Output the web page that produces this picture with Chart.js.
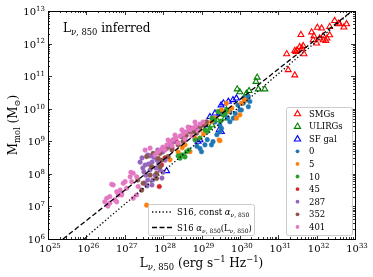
<!DOCTYPE html>
<html>
<head>
<meta charset="utf-8">
<script src="https://cdn.jsdelivr.net/npm/chart.js@4.4.0/dist/chart.umd.min.js"></script>
<style>
  html, body { margin: 0; padding: 0; background: #fff; }
</style>
</head>
<body>
<canvas id="chart" width="373" height="277"></canvas>
<script>
// values, kept as log10 exponents: [log L850, log Mmol]
const SMGS = [
  [31.59, 12.27], [31.22, 11.68], [31.43, 11.78], [31.49, 11.80], [31.46, 11.75],
  [31.56, 11.90], [31.65, 11.93], [31.67, 11.68], [31.87, 12.35], [31.93, 12.23],
  [32.02, 12.49], [32.13, 12.47], [32.00, 12.01], [32.08, 12.16], [32.17, 12.23],
  [32.17, 12.11], [32.24, 12.09], [32.27, 12.16], [32.34, 12.26], [32.34, 12.52],
  [32.47, 12.70], [32.57, 12.62], [32.71, 12.50], [32.78, 12.60], [32.60, 12.60],
  [31.26, 11.19], [31.43, 11.03], [31.91, 12.11], [31.62, 11.85],
]
const ULIRGS = [
  [30.45, 10.96], [30.42, 10.83], [30.48, 10.60], [30.65, 10.60], [29.93, 10.60],
  [30.00, 10.51], [30.24, 10.55], [30.17, 10.47], [29.65, 9.96], [29.61, 9.71],
  [29.53, 9.84], [29.40, 9.65], [29.27, 9.50],
]
const SF_GAL = [
  [28.09, 8.09], [28.91, 8.99], [28.96, 9.04], [29.22, 9.75], [29.35, 9.86],
  [29.48, 9.86], [29.46, 9.35], [29.52, 9.29], [29.57, 10.17], [29.70, 10.22],
  [29.51, 10.11], [29.82, 10.27], [29.91, 10.32], [28.70, 9.35], [29.09, 9.50],
]

// simulated galaxies, one list per snapshot
const SIM_SNAPS = ['0', '5', '10', '45', '287', '352', '401']
const SNAP_0 = [
  [30.17, 10.27], [30.22, 10.37], [30.09, 10.17], [30.00, 9.96], [30.26, 10.22],
  [30.22, 10.06], [30.04, 9.96], [29.83, 9.71], [29.74, 9.60], [29.52, 9.40],
  [29.48, 9.29], [29.30, 8.99], [29.26, 8.89], [29.00, 8.68], [29.09, 8.89],
  [28.96, 8.78], [29.48, 9.50], [29.61, 9.81], [29.74, 9.90], [29.95, 10.11],
  [29.35, 9.59], [30.10, 10.33], [29.40, 9.20], [29.15, 9.05], [29.88, 9.85],
  [29.68, 9.72], [28.88, 8.85],
]
const SNAP_5 = [
  [29.91, 9.71], [30.00, 9.81], [30.04, 10.17], [29.65, 10.17], [29.52, 9.96],
  [29.26, 9.60], [29.13, 9.55], [29.46, 9.04], [27.57, 7.04], [29.48, 9.02],
  [28.70, 8.68], [28.96, 9.35], [28.83, 9.10], [28.57, 8.89], [30.13, 10.27],
  [29.79, 10.02], [29.35, 9.71], [28.39, 8.67], [28.18, 8.43], [29.70, 9.92],
  [29.05, 9.22], [28.50, 8.80],
]
const SNAP_10 = [
  [28.52, 8.58], [28.44, 8.48], [28.61, 8.68], [28.48, 8.58], [28.57, 8.52],
  [28.39, 8.55], [29.43, 9.91], [29.61, 9.86], [29.57, 9.81], [29.65, 9.96],
  [29.09, 9.35], [29.22, 9.41], [28.83, 9.04], [28.96, 9.10], [29.35, 9.65],
  [28.67, 8.73], [29.27, 9.71], [29.50, 9.62], [29.15, 9.30],
]
const SNAP_45 = [
  [27.96, 8.27], [27.90, 7.61], [28.35, 8.99], [28.23, 8.79], [28.70, 9.41],
  [28.05, 8.49],
]
const SNAP_287 = [
  [27.45, 8.49], [27.53, 8.27], [27.60, 8.58], [27.66, 8.12], [27.71, 8.36],
  [27.79, 7.96], [27.55, 7.96], [27.47, 8.18], [27.84, 8.42], [27.92, 8.12],
  [27.73, 7.81], [27.60, 7.81], [27.99, 8.67], [28.05, 8.42], [27.66, 8.55],
  [28.26, 8.98], [28.18, 8.86], [27.86, 8.73], [27.50, 8.06], [27.81, 8.18],
  [27.97, 7.87], [27.58, 7.63], [27.40, 8.36], [27.71, 7.66], [28.57, 9.04],
  [28.83, 9.35], [27.62, 8.30], [27.76, 8.50], [27.88, 8.30], [27.52, 7.72],
  [28.00, 8.05],
]
const SNAP_352 = [
  [27.57, 8.53], [27.74, 8.63], [27.87, 8.48], [27.70, 8.22], [27.83, 8.02],
  [27.48, 7.71], [27.44, 7.50], [27.66, 7.96], [27.83, 7.86], [27.96, 8.42],
  [27.92, 8.22], [28.13, 8.53], [28.09, 8.78], [28.26, 9.04], [28.48, 9.14],
  [28.70, 9.29], [27.92, 8.63], [28.91, 9.40], [28.52, 8.99], [28.87, 9.25],
  [28.96, 9.45], [29.13, 9.60], [28.39, 8.89], [28.23, 8.73], [27.34, 7.81],
  [28.60, 9.18], [28.78, 9.30], [29.04, 9.50],
]
const SNAP_401 = [
  [26.48, 7.14], [26.53, 7.25], [26.61, 7.30], [26.74, 7.20], [26.79, 7.45],
  [26.88, 7.50], [26.83, 7.35], [26.70, 7.66], [27.05, 7.56], [27.22, 8.02],
  [27.31, 7.35], [27.22, 7.25], [26.96, 7.71], [27.14, 7.91], [26.61, 7.10],
  [26.79, 7.14], [26.92, 7.40], [26.66, 7.68], [27.01, 7.76], [27.16, 8.05],
  [26.92, 7.35], [27.35, 7.61], [27.18, 7.76], [27.31, 7.91], [26.56, 7.01],
  [27.92, 8.73], [27.99, 8.82], [28.10, 8.89], [28.18, 8.98], [28.26, 9.04],
  [28.33, 9.10], [28.44, 9.16], [28.52, 9.22], [28.59, 9.29], [28.70, 9.35],
  [28.78, 9.41], [28.85, 9.47], [28.96, 9.53], [29.04, 9.59], [28.05, 8.73],
  [28.23, 8.86], [28.39, 8.95], [28.57, 9.07], [28.75, 9.16], [28.91, 9.32],
  [28.31, 9.19], [28.49, 9.35], [28.65, 9.44], [28.83, 9.59], [28.13, 9.04],
  [27.86, 8.67], [27.79, 8.58], [27.66, 8.79], [27.53, 8.73],
]

// S16 relations, end points where they meet the frame
const S16_CONST = [[25.93, 6], [32.93, 13]]
const S16_VAR = [[25.39, 6], [32.92, 13]]

const X_EXP = [25, 26, 27, 28, 29, 30, 31, 32, 33]
const Y_EXP = [6, 7, 8, 9, 10, 11, 12, 13]

const SNAP_COLORS = ['#1f77b4', '#ff7f0e', '#2ca02c', '#d62728', '#9467bd', '#8c564b', '#e377c2']
const FONT = '"DejaVu Serif", serif'

const toPts = arr => arr.map(([lx, ly]) => ({ x: 10 ** lx, y: 10 ** ly }))

// draw text with sub/superscript pieces: [text, kind, italic]
const richText = (ctx, parts, x, y, size, align) => {
  const spec = parts.map(([t, k, it]) => {
    const s = k ? size * 0.7 : size
    const f = `${it ? 'italic ' : ''}${s}px ${FONT}`
    ctx.font = f
    return { t, k, f, w: ctx.measureText(t).width }
  })
  const total = spec.reduce((a, p) => a + p.w, 0)
  let cx = align === 'center' ? x - total / 2 : align === 'right' ? x - total : x
  ctx.textAlign = 'left'
  ctx.textBaseline = 'alphabetic'
  spec.forEach(p => {
    ctx.font = p.f
    const dy = p.k === 'sub' ? size * 0.25 : p.k === 'sup' ? -size * 0.42 : 0
    ctx.fillText(p.t, cx, y + dy)
    cx += p.w
  })
  return total
}

const NU850 = [['ν', 'sub', true], [', 850', 'sub']]

const triangle = (ctx, x, y, r, color) => {
  ctx.beginPath()
  ctx.moveTo(x, y - r)
  ctx.lineTo(x + r * 0.866, y + r * 0.5)
  ctx.lineTo(x - r * 0.866, y + r * 0.5)
  ctx.closePath()
  ctx.strokeStyle = color
  ctx.lineWidth = 1.1
  ctx.stroke()
}

const legendBox = (ctx, x, y, w, h) => {
  ctx.beginPath()
  ctx.roundRect(x + 0.5, y + 0.5, w, h, 2)
  ctx.fillStyle = 'rgba(255,255,255,0.8)'
  ctx.fill()
  ctx.strokeStyle = '#cccccc'
  ctx.lineWidth = 1
  ctx.stroke()
}

const decorPlugin = {
  id: 'decor',
  afterDraw(chart) {
    const { ctx, chartArea: a, scales } = chart
    const xs = scales.x
    const ys = scales.y
    ctx.save()

    // frame
    ctx.strokeStyle = '#000'
    ctx.lineWidth = 1
    ctx.strokeRect(a.left + 0.5, a.top + 0.5, a.right - a.left, a.bottom - a.top)

    // inward ticks on all four sides
    ctx.beginPath()
    const tickX = (px, len) => {
      ctx.moveTo(px, a.bottom); ctx.lineTo(px, a.bottom - len)
      ctx.moveTo(px, a.top); ctx.lineTo(px, a.top + len)
    }
    const tickY = (py, len) => {
      ctx.moveTo(a.left, py); ctx.lineTo(a.left + len, py)
      ctx.moveTo(a.right, py); ctx.lineTo(a.right - len, py)
    }
    X_EXP.forEach((e, i) => {
      tickX(Math.round(xs.getPixelForValue(10 ** e)) + 0.5, 4)
      if (i < X_EXP.length - 1) {
        for (let m = 2; m < 10; m++) tickX(Math.round(xs.getPixelForValue(m * 10 ** e)) + 0.5, 2)
      }
    })
    Y_EXP.forEach((e, i) => {
      tickY(Math.round(ys.getPixelForValue(10 ** e)) + 0.5, 4)
      if (i < Y_EXP.length - 1) {
        for (let m = 2; m < 10; m++) tickY(Math.round(ys.getPixelForValue(m * 10 ** e)) + 0.5, 2)
      }
    })
    ctx.lineWidth = 0.8
    ctx.stroke()

    // tick labels
    ctx.fillStyle = '#000'
    X_EXP.forEach(e => {
      richText(ctx, [['10', ''], [String(e), 'sup']], xs.getPixelForValue(10 ** e) + 2, a.bottom + 13, 10, 'center')
    })
    Y_EXP.forEach(e => {
      richText(ctx, [['10', ''], [String(e), 'sup']], a.left - 3, ys.getPixelForValue(10 ** e) + 4, 10, 'right')
    })

    // axis titles
    richText(ctx, [['L', ''], ...NU850, [' (erg s', ''], ['−1', 'sup'], [' Hz', ''], ['−1', 'sup'], [')', '']],
      (a.left + a.right) / 2, 267, 12, 'center')
    ctx.save()
    ctx.translate(17, (a.top + a.bottom) / 2)
    ctx.rotate(-Math.PI / 2)
    richText(ctx, [['M', ''], ['mol', 'sub'], [' (M', ''], ['⊙', 'sub'], [')', '']], 0, 0, 12, 'center')
    ctx.restore()

    // annotation
    richText(ctx, [['L', ''], ...NU850, [' inferred', '']], a.left + 15, 32, 12, 'left')

    // legend: relations
    legendBox(ctx, 148, 204, 106, 31)
    const relLines = [
      { dash: [1.3, 2.2], parts: [['S16, const ', ''], ['α', '', true], ...NU850] },
      { dash: [5, 2.5], parts: [['S16 ', ''], ['α', '', true], ...NU850, ['(L', ''], ...NU850, [')', '']] },
    ]
    relLines.forEach((r, i) => {
      const y = 212 + i * 15.5
      ctx.beginPath()
      ctx.setLineDash(r.dash)
      ctx.strokeStyle = '#000'
      ctx.lineWidth = 1.3
      ctx.moveTo(152, y); ctx.lineTo(172, y)
      ctx.stroke()
      ctx.setLineDash([])
      ctx.fillStyle = '#000'
      richText(ctx, r.parts, 177, y + 3, 8.5, 'left')
    })

    // legend: samples
    legendBox(ctx, 286, 107, 66, 128)
    const obs = [['SMGs', '#ff0000'], ['ULIRGs', '#008000'], ['SF gal', '#0000ff']]
    const step = 12.6
    obs.forEach(([name, c], i) => {
      const y = 113.5 + i * step
      triangle(ctx, 297.5, y + 0.5, 3.6, c)
      ctx.fillStyle = '#000'
      richText(ctx, [[name, '']], 309, y + 3, 8.5, 'left')
    })
    SIM_SNAPS.forEach((name, i) => {
      const y = 113.5 + (i + 3) * step
      ctx.beginPath()
      ctx.arc(297.5, y, 1.9, 0, Math.PI * 2)
      ctx.fillStyle = SNAP_COLORS[i]
      ctx.fill()
      ctx.fillStyle = '#000'
      richText(ctx, [[name, '']], 309, y + 3, 8.5, 'left')
    })

    ctx.restore()
  },
}

const dotSet = (data, color, order) => ({
  data: toPts(data),
  backgroundColor: color,
  borderColor: color,
  borderWidth: 0.5,
  pointRadius: 2.3,
  order,
})
const triSet = (data, color, order) => ({
  data: toPts(data),
  pointStyle: 'triangle',
  backgroundColor: 'rgba(0,0,0,0)',
  borderColor: color,
  borderWidth: 1.1,
  pointRadius: 3.4,
  order,
})
const lineSet = (data, dash) => ({
  data: toPts(data),
  showLine: true,
  pointRadius: 0,
  borderColor: '#000',
  borderWidth: 1.3,
  borderDash: dash,
  order: 0,
})

const simSets = [SNAP_0, SNAP_5, SNAP_10, SNAP_45, SNAP_287, SNAP_352, SNAP_401]
  .map((d, i) => dotSet(d, SNAP_COLORS[i], 10 - i))

const chartData = {
  datasets: [
    lineSet(S16_CONST, [1.3, 2.2]),
    lineSet(S16_VAR, [5, 2.5]),
    triSet(SMGS, '#ff0000', 15),
    triSet(ULIRGS, '#008000', 14),
    triSet(SF_GAL, '#0000ff', 13),
    ...simSets,
  ],
}

const chartConfig = {
  type: 'scatter',
  data: chartData,
  options: {
    responsive: false,
    animation: false,
    devicePixelRatio: 1,
    layout: { padding: { left: 48, right: 18, top: 11, bottom: 38 } },
    plugins: { legend: { display: false }, tooltip: { enabled: false } },
    scales: {
      x: { type: 'logarithmic', min: 1e25, max: 1e33, display: false },
      y: { type: 'logarithmic', min: 1e6, max: 1e13, display: false },
    },
  },
  plugins: [decorPlugin],
}

new Chart(document.querySelector('#chart').getContext('2d'), chartConfig)
</script>
</body>
</html>
